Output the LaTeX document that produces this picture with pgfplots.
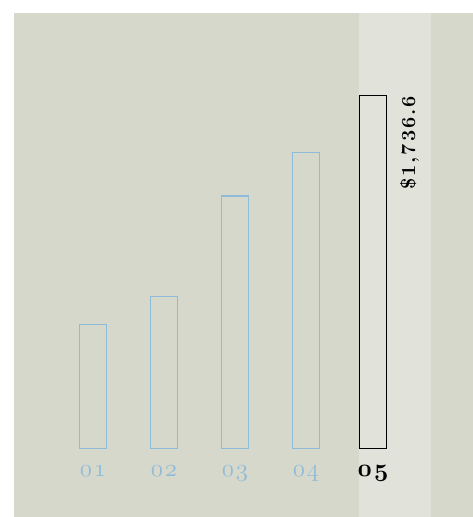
\documentclass[border=0pt]{standalone}
\usepackage{pgfplots}
\pgfplotsset{compat=1.18}
\definecolor{bg}{HTML}{D7D8CC}
\definecolor{band}{HTML}{E1E2DA}
\definecolor{barblue}{HTML}{8EBCD8}
\newcommand{\osn}[2]{\fontsize{23}{28}\usefont{OML}{lmm}{m}{it}#1\kern2pt#2}
\newcommand{\osb}[2]{\fontsize{23}{28}\usefont{OML}{cmm}{b}{it}#1\kern2pt#2}
\begin{document}
\begin{tikzpicture}
\begin{axis}[
  scale only axis,
  width=459pt, height=504pt,
  xmin=-1.113, xmax=5.352,
  ymin=-337.2, ymax=2143.7,
  hide axis,
  clip=false,
  axis background/.style={fill=bg},
  ybar, bar width=27pt, bar shift=0pt,
]
\fill[band] (axis cs:3.746,-337.2) rectangle (axis cs:4.761,2143.7);
\addplot[draw=barblue, fill=bg, line width=1.5pt] coordinates {(0,610) (1,747) (2,1244) (3,1456)};
\addplot[draw=black, fill=band, line width=1.3pt] coordinates {(3.944,1736.6)};
\node[anchor=base, text=barblue] at (axis cs:0,-137) {\osn{0}{1}};
\node[anchor=base, text=barblue] at (axis cs:1,-137) {\osn{0}{2}};
\node[anchor=base, text=barblue] at (axis cs:2,-137) {\osn{0}{3}};
\node[anchor=base, text=barblue] at (axis cs:3,-137) {\osn{0}{4}};
\node[anchor=base, text=black] at (axis cs:3.944,-137) {\osb{0}{5}};
\node[rotate=90, anchor=east, inner sep=0pt] at (axis cs:4.46,1736.6) {\fontsize{20}{24}\selectfont\bfseries \$\kern2pt 1\kern2pt ,\kern2pt 7\kern2pt 3\kern2pt 6\kern2pt .\kern2pt 6};
\end{axis}
\path ([xshift=-14pt]current axis.south west) rectangle ([yshift=13pt]current axis.north east);
\end{tikzpicture}
\end{document}
